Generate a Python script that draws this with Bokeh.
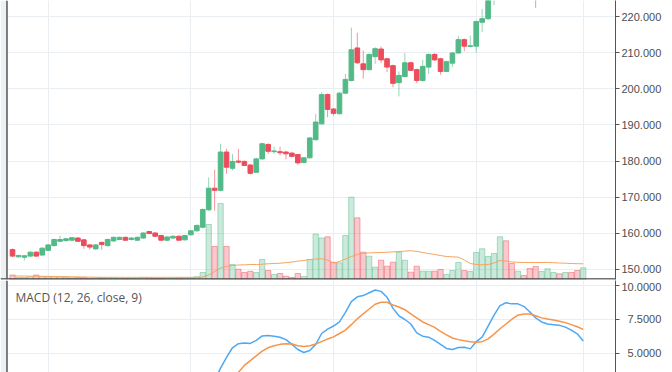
from bokeh.plotting import figure
from bokeh.layouts import column
from bokeh.models import (ColumnDataSource, Range1d, FixedTicker, Span, Label,
                          BoxAnnotation, PrintfTickFormatter, CustomJSTickFormatter,
                          CDSView, BooleanFilter)
from bokeh.embed import file_html
from bokeh.resources import INLINE

# ---------------- data ----------------
opens = [155.5, 153.5, 153.4, 153.7, 154.8, 154.0, 155.3, 156.6, 157.8, 158.0,
         158.1, 158.7, 158.2, 156.8, 155.7, 157.5, 156.6, 157.9, 158.3, 158.9,
         158.3, 158.1, 158.7, 160.5, 160.1, 159.4, 158.1, 158.7, 159.2, 158.2,
         159.6, 160.7, 161.7, 166.5, 172.5, 171.9, 182.5, 178.0, 180.0, 179.9,
         178.9, 176.9, 180.6, 184.6, 182.6, 182.6, 182.5, 182.2, 181.8, 179.6,
         180.9, 185.9, 190.3, 198.4, 194.4, 193.1, 198.8, 202.3, 211.3, 206.9,
         205.3, 208.9, 211.0, 208.3, 206.4, 201.7, 203.4, 207.2, 205.3, 202.3,
         206.0, 209.5, 208.3, 204.8, 207.1, 209.9, 213.6, 211.7, 211.8, 218.4,
         219.4, 225.5, 228.0, 232.0, 230.0, 228.0, 229.0, 228.5, 227.0, 225.5,
         227.0, 228.0, 228.6, 227.8, 228.3, 227.0, 225.2]
highs = [155.8, 154.0, 154.0, 155.0, 155.0, 156.1, 157.0, 158.5, 159.4, 158.7,
         159.0, 159.0, 158.4, 157.1, 157.0, 157.7, 158.5, 159.1, 159.1, 159.1,
         159.0, 159.1, 160.3, 160.7, 160.3, 159.6, 159.2, 159.4, 159.4, 159.6,
         160.9, 162.4, 166.9, 175.5, 177.6, 184.8, 183.4, 182.0, 183.4, 180.2,
         179.2, 180.9, 185.1, 184.9, 184.0, 184.0, 182.8, 182.6, 182.0, 181.1,
         186.6, 193.1, 199.1, 198.7, 194.7, 199.1, 204.1, 216.9, 215.5, 210.6,
         209.8, 211.5, 211.7, 208.6, 206.7, 204.8, 209.9, 207.5, 205.6, 208.0,
         209.8, 209.9, 208.6, 207.8, 210.2, 214.6, 213.9, 214.7, 218.9, 222.1,
         226.5, 229.0, 233.0, 233.5, 231.0, 230.0, 229.5, 229.0, 228.0, 227.8,
         228.7, 229.2, 229.0, 228.9, 228.6, 227.4, 226.0]
lows = [153.4, 153.3, 152.5, 153.5, 153.5, 153.8, 155.1, 156.4, 157.6, 157.6,
        157.9, 157.6, 155.7, 155.5, 155.5, 155.5, 156.4, 157.7, 158.1, 157.9,
        158.0, 157.9, 158.5, 159.8, 159.0, 157.9, 157.9, 158.5, 157.9, 158.0,
        159.4, 160.5, 161.4, 166.2, 166.3, 171.6, 176.5, 177.4, 179.5, 178.6,
        176.3, 176.7, 180.4, 182.0, 182.0, 181.6, 180.5, 181.0, 179.0, 179.4,
        180.7, 185.7, 190.0, 192.1, 192.6, 192.9, 198.5, 202.0, 206.8, 202.8,
        205.0, 206.9, 207.1, 204.6, 200.4, 197.9, 203.1, 204.9, 201.6, 202.0,
        204.1, 207.7, 203.9, 204.6, 206.0, 209.7, 210.4, 211.5, 210.0, 215.7,
        219.0, 223.1, 227.0, 229.0, 227.0, 227.2, 227.5, 226.0, 222.4, 225.0,
        226.3, 227.5, 227.2, 227.3, 226.8, 224.9, 224.8]
closes = [153.7, 153.9, 153.8, 154.8, 153.7, 155.9, 156.8, 158.3, 158.3, 158.5,
          158.8, 157.8, 156.6, 156.2, 156.8, 156.9, 158.3, 158.9, 158.9, 158.1,
          158.7, 158.9, 160.1, 159.95, 159.2, 158.1, 159.0, 159.2, 158.1, 159.4,
          160.7, 162.2, 166.6, 172.5, 171.9, 182.5, 178.3, 179.9, 179.7, 178.8,
          176.6, 180.6, 184.8, 182.7, 182.8, 182.3, 182.0, 181.3, 179.5, 180.9,
          186.4, 190.8, 198.4, 194.3, 193.2, 198.8, 202.6, 210.8, 207.2, 205.3,
          209.5, 211.1, 208.0, 206.0, 201.5, 203.7, 207.2, 205.1, 202.3, 206.2,
          209.5, 208.0, 204.8, 207.5, 209.9, 213.6, 211.8, 211.9, 218.6, 219.4,
          225.5, 228.0, 232.0, 230.0, 228.0, 229.0, 228.5, 227.0, 225.5, 227.0,
          228.0, 228.6, 227.8, 228.3, 227.0, 225.2, 225.7]
volumes = [45, 20, 20, 27, 45, 27, 27, 27, 27, 20,
           17, 20, 20, 13, 17, 20, 17, 17, 13, 13,
           13, 13, 20, 17, 13, 13, 13, 13, 17, 17,
           17, 27, 70, 550, 330, 760, 330, 150, 103, 70,
           82, 70, 200, 90, 50, 60, 32, 20, 60, 30,
           200, 455, 415, 427, 172, 167, 440, 823, 617, 273,
           233, 123, 193, 133, 173, 273, 193, 73, 133, 83,
           83, 83, 100, 50, 90, 170, 90, 80, 270, 307,
           230, 260, 427, 387, 160, 83, 40, 110, 130, 80,
           107, 70, 57, 70, 70, 90, 117]
volume_ma = [36, 35, 34, 33, 33, 32, 31, 30, 29, 28,
             27, 26, 25, 24, 23, 22, 22, 22, 22, 22,
             22, 22, 22, 22, 22, 22, 22, 22, 22, 22,
             22, 22, 24, 45, 80, 115, 130, 140, 145, 147,
             150, 150, 153, 157, 160, 163, 168, 175, 183, 190,
             200, 205, 207, 195, 165, 180, 205, 230, 250, 263,
             266, 268, 270, 273, 276, 280, 284, 287, 282, 270,
             260, 250, 240, 230, 227, 223, 195, 160, 150, 147,
             150, 165, 190, 185, 175, 172, 170, 170, 170, 170,
             170, 168, 165, 163, 160, 158, 157]

macd_start = 34
macd = [3.0, 3.9, 4.7, 5.4, 5.7, 5.75, 5.72, 5.95, 6.27, 6.30,
        6.25, 6.17, 6.0, 5.65, 5.27, 5.05, 5.2, 5.65, 6.45, 6.77,
        7.0, 7.3, 8.0, 8.8, 9.15, 9.24, 9.45, 9.65, 9.55, 9.12,
        8.3, 7.75, 7.48, 7.15, 6.5, 6.25, 6.18, 5.95, 5.65, 5.35,
        5.27, 5.42, 5.44, 5.32, 5.85, 6.18, 7.0, 7.8, 8.5, 8.71,
        8.63, 8.63, 8.45, 8.05, 7.6, 7.3, 7.15, 7.1, 7.05, 6.92,
        6.7, 6.43, 5.9]
signal_start = 37
signal = [3.0, 3.6, 4.1, 4.45, 4.8, 5.15, 5.4, 5.55, 5.65, 5.69,
          5.68, 5.55, 5.5, 5.55, 5.68, 5.85, 6.05, 6.2, 6.45, 6.7,
          7.1, 7.53, 7.9, 8.25, 8.6, 8.75, 8.75, 8.55, 8.4, 8.2,
          7.9, 7.6, 7.3, 7.1, 6.9, 6.6, 6.35, 6.12, 6.0, 5.92,
          5.85, 5.81, 5.85, 6.05, 6.4, 6.8, 7.15, 7.5, 7.8, 7.88,
          7.88, 7.75, 7.6, 7.52, 7.45, 7.35, 7.25, 7.1, 6.95, 6.75]

price_ticks = [150, 160, 170, 180, 190, 200, 210, 220]
macd_ticks = [5.0, 7.5, 10.0]
time_ticks = [6, 30, 54, 78, 96]
macd_title = "MACD (12, 26, close, 9)"

# ---------------- styling ----------------
UP = "#53b987"
DOWN = "#eb4d5c"
GRID = "#e9eef3"
AXIS = "#555555"
LABEL = "#4e4e4e"
BAND = "#eef1f4"
Y_LO, Y_HI = 147.23, 224.43

n = len(opens)
idx = list(range(n))
colors = [UP if c >= o else DOWN for o, c in zip(opens, closes)]
tops = [max(o, c) for o, c in zip(opens, closes)]
bots = [min(o, c) for o, c in zip(opens, closes)]
src = ColumnDataSource(dict(
    x=idx, o=opens, h=highs, l=lows, c=closes, top=tops, bot=bots,
    vol=volumes, vma=volume_ma, color=colors))

# only candles that reach into the visible price window are drawn
wick_view = CDSView(filter=BooleanFilter(booleans=[lo < Y_HI for lo in lows]))
body_view = CDSView(filter=BooleanFilter(booleans=[b < Y_HI for b in bots]))

x_range = Range1d(-2.02, 101.43)
LEFT_EDGE = -0.93


def style_axis(a, ticks, formatter):
    a.ticker = FixedTicker(ticks=ticks)
    a.formatter = formatter
    a.axis_line_color = AXIS
    a.axis_line_width = 1
    a.major_tick_line_color = AXIS
    a.major_tick_out = 4
    a.major_tick_in = 0
    a.minor_tick_line_color = None
    a.major_label_standoff = 2
    a.major_label_text_font = "Liberation Sans"
    a.major_label_text_font_size = "11px"
    a.major_label_text_color = LABEL


p = figure(width=672, height=280, x_range=x_range,
           y_range=Range1d(Y_LO, Y_HI),
           output_backend="svg", toolbar_location=None,
           x_axis_location=None, y_axis_location="right",
           min_border_left=0, min_border_top=0, min_border_bottom=1,
           min_border_right=57)
p.outline_line_color = None
p.extra_y_ranges = {"vol": Range1d(0, 2790)}
p.xgrid.ticker = FixedTicker(ticks=time_ticks)
p.xgrid.grid_line_color = GRID
p.ygrid.grid_line_color = GRID
style_axis(p.yaxis[0], price_ticks, PrintfTickFormatter(format="%.3f"))

p.add_layout(BoxAnnotation(right=LEFT_EDGE, fill_color=BAND, fill_alpha=1,
                           line_color=None, level="underlay"))

# volume
p.vbar(x="x", top="vol", bottom=0, width=0.9, source=src, y_range_name="vol",
       fill_color="color", fill_alpha=0.3, line_color="color", line_alpha=0.45)
p.line(x="x", y="vma", source=src, y_range_name="vol",
       line_color="#f7a35c", line_width=1)

# candles
p.segment(x0="x", y0="l", x1="x", y1="h", source=src, view=wick_view,
          line_color="color", line_alpha=0.6, line_width=1)
p.vbar(x="x", top="top", bottom="bot", width=0.78, source=src, view=body_view,
       fill_color="color", line_color="color", line_width=1)

p.add_layout(Span(location=147.35, dimension="width", line_color="#444444", line_width=1.5))
p.add_layout(Span(location=LEFT_EDGE, dimension="height", line_color="#555555", line_width=1.5))

# last-price marker on the price scale (only its lower edge is in view)
p.add_layout(BoxAnnotation(left=104.1, right=109.8, bottom=223.6, top=226.0,
                           fill_color=UP, fill_alpha=1, line_color=None))

# ---------------- MACD pane ----------------
q = figure(width=672, height=92, x_range=x_range, y_range=Range1d(3.58, 10.35),
           output_backend="svg", toolbar_location=None,
           x_axis_location=None, y_axis_location="right",
           min_border_left=0, min_border_top=0, min_border_bottom=0,
           min_border_right=57)
q.outline_line_color = None
q.xgrid.ticker = FixedTicker(ticks=time_ticks)
q.xgrid.grid_line_color = GRID
q.ygrid.grid_line_color = GRID
style_axis(q.yaxis[0], macd_ticks, CustomJSTickFormatter(
    code="var s = tick.toFixed(4); return s.length < 7 ? '\\u00a0\\u00a0' + s : s;"))

q.add_layout(BoxAnnotation(right=LEFT_EDGE, fill_color=BAND, fill_alpha=1,
                           line_color=None, level="underlay"))
q.line(list(range(macd_start, macd_start + len(macd))), macd,
       line_color="#4da8f5", line_width=1.5)
q.line(list(range(signal_start, signal_start + len(signal))), signal,
       line_color="#f6944a", line_width=1.5)
q.add_layout(Span(location=LEFT_EDGE, dimension="height", line_color="#555555", line_width=1.5))
q.add_layout(Label(x=0.5, y=9.1, text=macd_title, text_font="Open Sans",
                   text_font_size="12px", text_color="#555555",
                   text_baseline="middle", text_align="left"))

layout = column(p, q, spacing=0)
open("out.html", "w").write(file_html(layout, INLINE))
